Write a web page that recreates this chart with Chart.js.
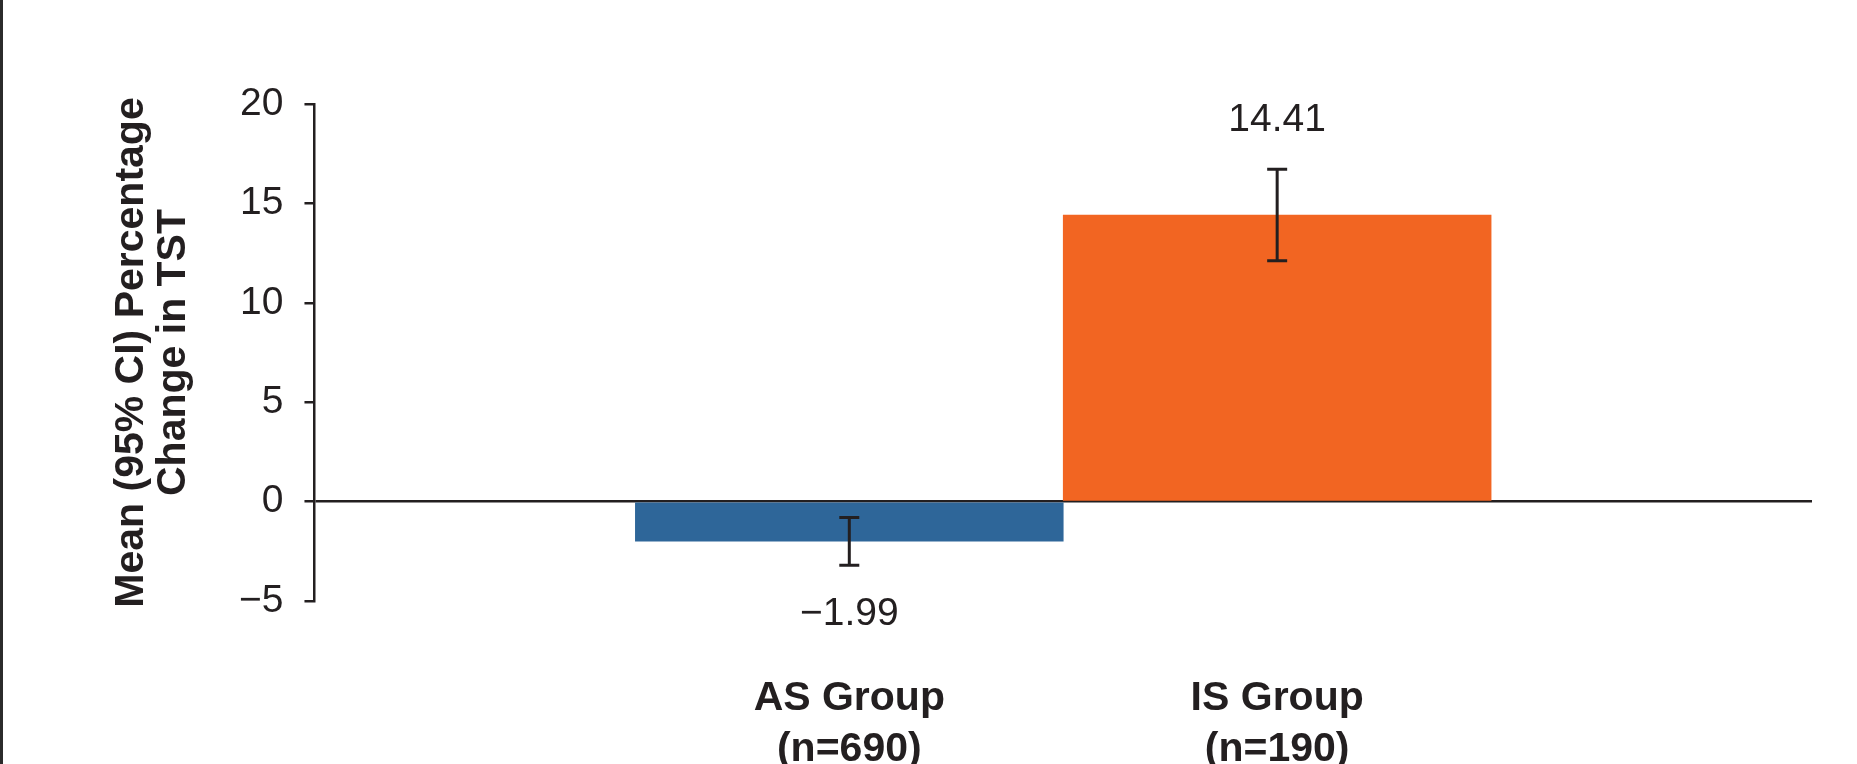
<!DOCTYPE html>
<html>
<head>
<meta charset="utf-8">
<script src="https://cdn.jsdelivr.net/npm/chart.js@4.4.1/dist/chart.umd.min.js"></script>
<style>
  html, body { margin: 0; padding: 0; background: #fff; overflow: hidden; }
  #wrap { position: absolute; left: 0; top: 0; width: 1857px; height: 853px; }
  #edge { position: absolute; left: 0; top: 0; width: 3px; height: 764px; background: #2b2b2b; }
</style>
</head>
<body>
<div id="wrap"><canvas id="chart"></canvas></div>
<div id="edge"></div>
<script>
// groups and values
const groupLabels = [['AS Group', '(n=690)'], ['IS Group', '(n=190)']];
const groupPos = [0, 1];
const meanChange = [-1.99, 14.41];
const ciLow = [-3.2, 12.12];
const ciHigh = [-0.8, 16.72];
const barColors = ['#2e6699', '#f26522'];
const yTicks = [-5, 0, 5, 10, 15, 20];

const ink = '#231f20';
const fontFamily = '"Liberation Sans", Arial, Helvetica, sans-serif';

const minus = (s) => String(s).replace('-', '\u2212');

// error bars + mean labels
const errorBars = {
  id: 'errorBars',
  afterDatasetsDraw(chart) {
    const ctx = chart.ctx;
    const y = chart.scales.y;
    const meta = chart.getDatasetMeta(0);
    ctx.save();
    ctx.strokeStyle = ink;
    ctx.fillStyle = ink;
    ctx.lineWidth = 3;
    meta.data.forEach((bar, i) => {
      const x = bar.x;
      const top = y.getPixelForValue(ciHigh[i]);
      const bot = y.getPixelForValue(ciLow[i]);
      ctx.beginPath();
      ctx.moveTo(x, top); ctx.lineTo(x, bot);
      ctx.moveTo(x - 10, top); ctx.lineTo(x + 10, top);
      ctx.moveTo(x - 10, bot); ctx.lineTo(x + 10, bot);
      ctx.stroke();

      ctx.font = '39px ' + fontFamily;
      ctx.textAlign = 'center';
      ctx.textBaseline = 'middle';
      const ly = meanChange[i] >= 0 ? top - 49 : bot + 49;
      ctx.fillText(minus(meanChange[i].toFixed(2)), x, ly);
    });
    ctx.restore();
  }
};

new Chart(document.getElementById('chart'), {
  type: 'bar',
  data: {
    datasets: [{
      data: groupPos.map((p, i) => ({ x: p, y: meanChange[i] })),
      backgroundColor: barColors,
      borderWidth: 0,
      barPercentage: 1,
      categoryPercentage: 1,
      grouped: false
    }]
  },
  options: {
    responsive: true,
    maintainAspectRatio: false,
    animation: false,
    layout: { padding: { left: 60, top: 104, right: 45, bottom: 6 } },
    plugins: { legend: { display: false }, tooltip: { enabled: false } },
    scales: {
      x: {
        type: 'linear',
        offset: false,
        bounds: 'data',
        min: -1.25,
        max: 2.25,
        afterBuildTicks: (axis) => { axis.ticks = groupPos.map(v => ({ value: v })); },
        grid: { display: false, drawTicks: false, offset: false },
        border: { display: false },
        ticks: {
          autoSkip: false,
          maxRotation: 0,
          minRotation: 0,
          padding: 72,
          color: ink,
          font: { family: fontFamily, size: 41, weight: 'bold', lineHeight: 51 / 41 },
          callback: (v) => groupLabels[groupPos.indexOf(v)] || ''
        }
      },
      y: {
        min: -5,
        max: 20,
        afterBuildTicks: (axis) => { axis.ticks = yTicks.map(v => ({ value: v })); },
        grid: {
          color: (c) => (c.tick && c.tick.value === 0 ? ink : 'rgba(0,0,0,0)'),
          tickColor: ink,
          lineWidth: 2.5,
          tickLength: 10
        },
        border: { display: true, color: ink, width: 2.5 },
        ticks: {
          padding: 21,
          color: ink,
          font: { family: fontFamily, size: 39 },
          callback: (v) => minus(v)
        },
        title: {
          display: true,
          text: ['Mean (95% CI) Percentage', 'Change in TST'],
          color: ink,
          font: { family: fontFamily, size: 41, weight: 'bold', lineHeight: 42 / 41 },
          padding: { top: 51, bottom: 23 }
        }
      }
    }
  },
  plugins: [errorBars]
});
</script>
</body>
</html>
